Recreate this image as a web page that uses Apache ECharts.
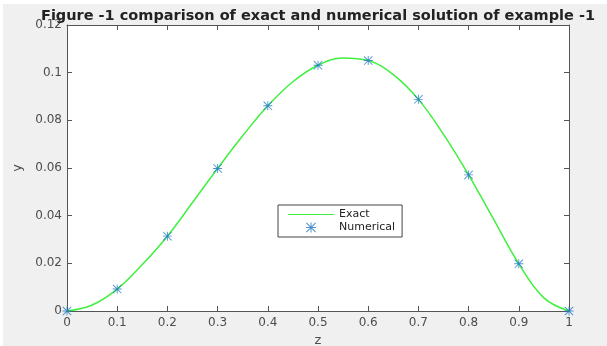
<!DOCTYPE html>
<html>
<head>
<meta charset="utf-8">
<script src="https://cdn.jsdelivr.net/npm/echarts@6/dist/echarts.min.js"></script>
<style>
  html, body { margin: 0; padding: 0; background: #ffffff; }
  #main { position: absolute; left: 3px; top: 4px; width: 604px; height: 342px; background: #f0f0f0; }
</style>
</head>
<body>
<div id="main"></div>
<script>
// numerical solution at the nodes
var zNodes = [0, 0.1, 0.2, 0.3, 0.4, 0.5, 0.6, 0.7, 0.8, 0.9, 1];
var numerical = [0, 0.0092, 0.0314, 0.0598, 0.0861, 0.1031, 0.1051, 0.0888, 0.0571, 0.0198, 0];

// exact curve, read every 0.05
var zExact = [0, 0.05, 0.1, 0.15, 0.2, 0.25, 0.3, 0.35, 0.4, 0.45, 0.5,
              0.55, 0.6, 0.65, 0.7, 0.75, 0.8, 0.85, 0.9, 0.95, 1];
var exact = [0, 0.0025, 0.0092, 0.0195, 0.0314, 0.0455, 0.0598, 0.0735, 0.0861, 0.0962, 0.1031,
             0.1062, 0.1051, 0.0992, 0.0888, 0.0741, 0.0571, 0.0384, 0.0198, 0.0055, 0];

// MATLAB style asterisk marker
var starPath = 'path://M0,4.5 L10,4.5 L10,5.5 L0,5.5 Z M4.5,0 L5.5,0 L5.5,10 L4.5,10 Z ' +
  'M0.7,0 L10,9.3 L9.3,10 L0,0.7 Z M9.3,0 L10,0.7 L0.7,10 L0,9.3 Z';

var axisColor = '#555555';
var labelColor = '#4d4d4d';
var fontFam = 'DejaVu Sans, sans-serif';

var chart = echarts.init(document.getElementById('main'));

function pairs(xs, ys) {
  return xs.map(function (x, i) { return [x, ys[i]]; });
}

var option = {
  animation: false,
  backgroundColor: '#f0f0f0',
  title: {
    text: 'Figure -1 comparison of exact and numerical solution of example -1',
    left: 310,
    textAlign: 'center',
    top: 0,
    textStyle: { fontFamily: fontFam, fontSize: 14.5, fontWeight: 'bold', color: '#222222' }
  },
  grid: {
    left: 64, right: 38, top: 21, bottom: 35,
    containLabel: false, outerBoundsMode: 'none',
    backgroundColor: '#ffffff', show: true, borderWidth: 0
  },
  legend: {
    orient: 'vertical',
    left: 275,
    top: 201,
    width: 131,
    backgroundColor: '#ffffff',
    borderColor: '#444444',
    borderWidth: 1,
    padding: [4, 7, 4, 10],
    itemGap: 2,
    itemWidth: 46,
    itemHeight: 10,
    textStyle: { fontFamily: fontFam, fontSize: 11, color: '#222222' },
    data: [
      { name: 'Exact', icon: 'path://M0,4.5 L46,4.5 L46,5.5 L0,5.5 Z' },
      { name: 'Numerical', icon: starPath }
    ]
  },
  xAxis: [{
    type: 'value', min: 0, max: 1, interval: 0.1,
    name: 'z', nameLocation: 'middle', nameGap: 20,
    nameTextStyle: { fontFamily: fontFam, fontSize: 13, color: labelColor },
    axisLine: { onZero: false, lineStyle: { color: axisColor, width: 1 } },
    axisTick: { inside: true, length: 5, lineStyle: { color: axisColor } },
    axisLabel: {
      fontFamily: fontFam, fontSize: 12, color: labelColor, margin: 6,
      formatter: function (v) { return String(Math.round(v * 10) / 10); }
    },
    splitLine: { show: false }
  }, {
    type: 'value', min: 0, max: 1, interval: 0.1, position: 'top',
    axisLine: { onZero: false, lineStyle: { color: axisColor, width: 1 } },
    axisTick: { inside: true, length: 5, lineStyle: { color: axisColor } },
    axisLabel: { show: false },
    splitLine: { show: false }
  }],
  yAxis: [{
    type: 'value', min: 0, max: 0.12, interval: 0.02,
    name: 'y', nameLocation: 'middle', nameGap: 43,
    nameTextStyle: { fontFamily: fontFam, fontSize: 13, color: labelColor },
    axisLine: { show: true, onZero: false, lineStyle: { color: axisColor, width: 1 } },
    axisTick: { show: true, inside: true, length: 5, lineStyle: { color: axisColor } },
    axisLabel: {
      fontFamily: fontFam, fontSize: 12, color: labelColor, margin: 5,
      formatter: function (v) { return String(Math.round(v * 100) / 100); }
    },
    splitLine: { show: false }
  }, {
    type: 'value', min: 0, max: 0.12, interval: 0.02, position: 'right',
    axisLine: { show: true, onZero: false, lineStyle: { color: axisColor, width: 1 } },
    axisTick: { show: true, inside: true, length: 5, lineStyle: { color: axisColor } },
    axisLabel: { show: false },
    splitLine: { show: false }
  }],
  series: [{
    name: 'Exact',
    type: 'line',
    data: pairs(zExact, exact),
    smooth: 0.4,
    showSymbol: false,
    symbol: 'none',
    itemStyle: { color: '#3ff03f' },
    lineStyle: { color: '#3ff03f', width: 1.5 },
    z: 2
  }, {
    name: 'Numerical',
    type: 'scatter',
    data: pairs(zNodes, numerical),
    symbol: starPath,
    symbolSize: 9,
    itemStyle: { color: '#1f77c4' },
    z: 3
  }]
};

chart.setOption(option);

window.addEventListener('resize', function () {
  chart.resize();
});
</script>
</body>
</html>
